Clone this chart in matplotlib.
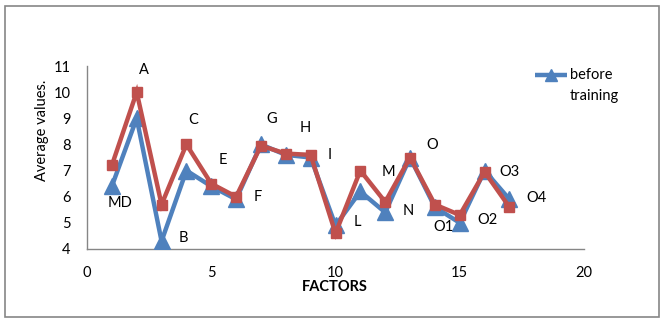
import matplotlib
matplotlib.use("Agg")
import matplotlib.pyplot as plt
from matplotlib.lines import Line2D
from matplotlib.patches import Rectangle

plt.rcParams['font.family'] = ['Lato', 'DejaVu Sans']

factors = [1, 2, 3, 4, 5, 6, 7, 8, 9, 10, 11, 12, 13, 14, 15, 16, 17]
before_training = [6.4, 9.0, 4.3, 7.0, 6.4, 5.9, 8.0, 7.6, 7.5, 4.9, 6.2, 5.4, 7.5, 5.6, 5.0, 7.0, 5.9]
after_training = [7.2, 10.0, 5.7, 8.0, 6.5, 6.0, 7.95, 7.65, 7.6, 4.6, 7.0, 5.8, 7.5, 5.7, 5.3, 6.95, 5.6]

point_labels = ["MD", "A", "B", "C", "E", "F", "G", "H", "I", "L", "M", "N", "O", "O1", "O2", "O3", "O4"]
label_x = [1.33, 2.29, 3.86, 4.27, 5.47, 6.88, 7.44, 8.77, 9.78, 10.87, 12.15, 12.92, 13.88, 14.33, 16.1, 17.02, 18.1]
label_y = [5.76, 10.86, 4.42, 8.94, 7.41, 5.99, 8.98, 8.64, 7.60, 5.03, 6.95, 5.46, 7.98, 4.84, 5.11, 6.95, 5.95]

x_ticks = [0, 5, 10, 15, 20]
y_ticks = [4, 5, 6, 7, 8, 9, 10, 11]

legend_text = ['before', 'training']

blue = '#4F81BD'
red = '#C0504D'

fig = plt.figure(figsize=(6.65, 3.23), dpi=100)
ax = fig.add_axes([87/665, 1 - 249/323, (584 - 87)/665, (249 - 66)/323])

ax.plot(factors, before_training, color=blue, lw=3.2, marker='^', ms=12,
        mfc=blue, mec=blue, zorder=3, solid_joinstyle='miter')
ax.plot(factors, after_training, color=red, lw=3.2, marker='s', ms=7.5,
        mfc=red, mec=red, zorder=4, solid_joinstyle='miter')

for t, lx, ly in zip(point_labels, label_x, label_y):
    ax.text(lx, ly, t, ha='center', va='center', fontsize=10.5, color='black', zorder=5)

ax.set_xlim(0, 20)
ax.set_ylim(4, 11)
ax.set_xticks(x_ticks)
ax.set_yticks(y_ticks)
ax.tick_params(axis='both', length=0, labelsize=10.5, pad=12)
for s in ['top', 'right']:
    ax.spines[s].set_visible(False)
for s in ['left', 'bottom']:
    ax.spines[s].set_color('#868686')
    ax.spines[s].set_linewidth(1.0)

fig.text(335/665, 1 - 287/323, 'FACTORS', ha='center', va='center', fontsize=10.5, fontweight='bold')
fig.text(42/665, 1 - 130/323, 'Average values.', ha='center', va='center', fontsize=10.5, rotation=90)

# legend (only the first series is shown in the original)
ly0 = 1 - 75/323
fig.add_artist(Line2D([535/665, 567/665], [ly0, ly0], transform=fig.transFigure,
                      color=blue, lw=3.2, solid_capstyle='butt'))
fig.add_artist(Line2D([551/665], [ly0], transform=fig.transFigure, marker='^', ms=9,
                      mfc=blue, mec=blue, lw=0))
fig.text(570/665, ly0, legend_text[0], ha='left', va='center', fontsize=10.5)
fig.text(570/665, 1 - 96/323, legend_text[1], ha='left', va='center', fontsize=10.5)

# outer chart border
fig.patches.append(Rectangle((5.5/665, 1 - 316.5/323), (659 - 5.5)/665, (316.5 - 6)/323,
                             transform=fig.transFigure, fill=False, edgecolor='#868686', lw=1.2))

fig.savefig('out.png', dpi=100)
